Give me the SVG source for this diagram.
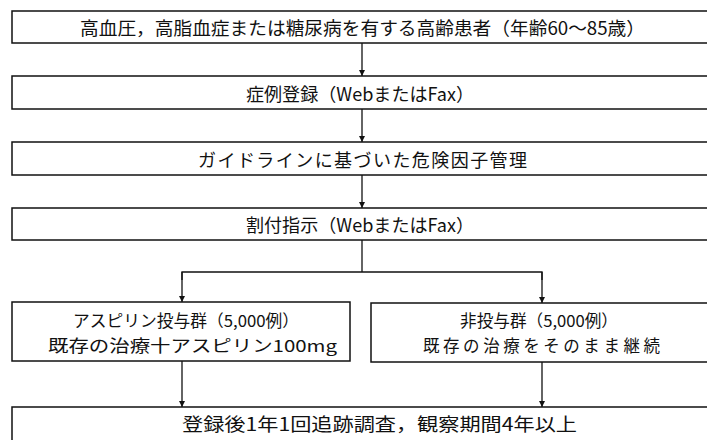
<svg xmlns="http://www.w3.org/2000/svg" width="707" height="440" viewBox="0 0 707 440">
<defs>
<marker id="arr" viewBox="0 0 10 10" refX="10" refY="5" markerWidth="6" markerHeight="7" orient="auto" markerUnits="userSpaceOnUse">
<path d="M0,0 L10,5 L0,10 z" fill="#111"/>
</marker>
<style>
.box{fill:#fff;stroke:#111;stroke-width:1.5}
.t{font-family:"Noto Sans CJK JP","Noto Sans",sans-serif;font-size:18px;fill:#111;text-anchor:start}
.t2{font-size:16.5px}
.c{fill:none;stroke:#111;stroke-width:1.3}
</style>
</defs>
<rect x="0" y="0" width="707" height="440" fill="#fff"/>
<g id="connectors">
<line class="c" x1="362" y1="43" x2="362" y2="76" marker-end="url(#arr)"/>
<line class="c" x1="362" y1="109" x2="362" y2="142" marker-end="url(#arr)"/>
<line class="c" x1="362" y1="175" x2="362" y2="208" marker-end="url(#arr)"/>
<polyline class="c" points="362,240 362,272"/>
<polyline class="c" points="182,280 182,272 542,272 542,280"/>
<line class="c" x1="182" y1="272" x2="182" y2="302" marker-end="url(#arr)"/>
<line class="c" x1="542" y1="272" x2="542" y2="303" marker-end="url(#arr)"/>
<line class="c" x1="182" y1="361" x2="182" y2="407" marker-end="url(#arr)"/>
<line class="c" x1="542" y1="362" x2="542" y2="407" marker-end="url(#arr)"/>
</g>
<g id="n1">
<rect class="box" x="12" y="11" width="710" height="32"/>
<text class="t" x="80" y="35" textLength="565" lengthAdjust="spacingAndGlyphs">高血圧，高脂血症または糖尿病を有する高齢患者（年齢60〜85歳）</text>
</g>
<g id="n2">
<rect class="box" x="12" y="76" width="710" height="33"/>
<text class="t" x="246" y="101" textLength="228" lengthAdjust="spacingAndGlyphs">症例登録（WebまたはFax）</text>
</g>
<g id="n3">
<rect class="box" x="12" y="142" width="710" height="33"/>
<text class="t" x="198" y="167" textLength="329" lengthAdjust="spacing">ガイドラインに基づいた危険因子管理</text>
</g>
<g id="n4">
<rect class="box" x="12" y="208" width="710" height="32"/>
<text class="t" x="246" y="232" textLength="228" lengthAdjust="spacingAndGlyphs">割付指示（WebまたはFax）</text>
</g>
<g id="n5">
<rect class="box" x="12" y="302" width="338" height="59"/>
<text class="t t2" x="73" y="327" textLength="226" lengthAdjust="spacingAndGlyphs">アスピリン投与群（5,000例）</text>
<text class="t t2" x="48" y="352" textLength="289" lengthAdjust="spacingAndGlyphs">既存の治療十アスピリン100mg</text>
</g>
<g id="n6">
<rect class="box" x="371" y="303" width="350" height="59"/>
<text class="t t2" x="460" y="327" textLength="158" lengthAdjust="spacingAndGlyphs">非投与群（5,000例）</text>
<text class="t t2" x="423" y="352" textLength="237" lengthAdjust="spacing">既存の治療をそのまま継続</text>
</g>
<g id="n7">
<rect class="box" x="12" y="407" width="710" height="40"/>
<text class="t" x="182" y="431" textLength="395" lengthAdjust="spacingAndGlyphs">登録後1年1回追跡調査，観察期間4年以上</text>
</g>
</svg>
